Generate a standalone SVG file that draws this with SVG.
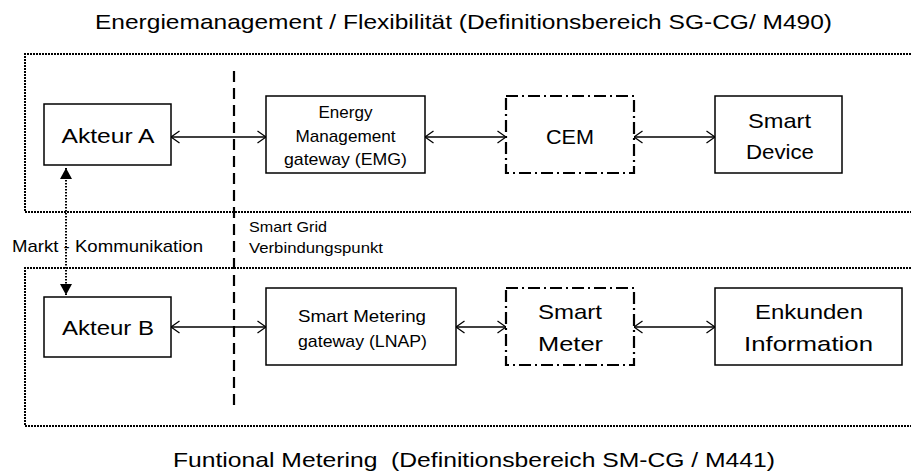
<svg xmlns="http://www.w3.org/2000/svg" width="911" height="472" viewBox="0 0 911 472">
<defs>
<style>
.t{font-family:"Liberation Sans",Arial,sans-serif;fill:#000;text-anchor:middle}
.big{font-size:21px}
.mid{font-size:17px}
.sm{font-size:15px}
.box{fill:#fff;stroke:#000;stroke-width:1.5}
.dd{fill:#fff;stroke:#000;stroke-width:2.2;stroke-dasharray:12 4 2 4}
.region{fill:none;stroke:#000;stroke-width:2;stroke-dasharray:2 1}
.conn{fill:none;stroke:#000;stroke-width:1.3;marker-start:url(#open);marker-end:url(#open)}
.dot{fill:none;stroke:#000;stroke-width:2;stroke-dasharray:1.5 1.5;marker-start:url(#tri);marker-end:url(#tri)}
.dash{fill:none;stroke:#000;stroke-width:2.2;stroke-dasharray:11 6}
</style>
<marker id="open" viewBox="0 0 10 14" refX="9.5" refY="7" markerWidth="10" markerHeight="14" markerUnits="userSpaceOnUse" orient="auto-start-reverse">
<path d="M1,1 L9.5,7 L1,13" fill="none" stroke="#000" stroke-width="1.3"/>
</marker>
<marker id="tri" viewBox="0 0 11 12" refX="11" refY="6" markerWidth="11" markerHeight="12" markerUnits="userSpaceOnUse" orient="auto-start-reverse">
<path d="M0,0 L11,6 L0,12 Z" fill="#000"/>
</marker>
</defs>

<g id="regions">
<path class="region" d="M911,54 H25 V212 H911"/>
<path class="region" d="M911,268 H25 V426 H911"/>
</g>

<g id="titles">
<text class="t big" x="463.5" y="29" textLength="737" lengthAdjust="spacingAndGlyphs">Energiemanagement / Flexibilität (Definitionsbereich SG-CG/ M490)</text>
<text class="t big" x="474" y="467" textLength="602" lengthAdjust="spacingAndGlyphs" xml:space="preserve">Funtional Metering  (Definitionsbereich SM-CG / M441)</text>
</g>

<g id="boundary">
<line class="dash" x1="234" y1="71" x2="234" y2="406"/>
<text class="t sm" x="249" y="232" style="text-anchor:start" textLength="78" lengthAdjust="spacingAndGlyphs">Smart Grid</text>
<text class="t sm" x="249" y="253" style="text-anchor:start" textLength="134" lengthAdjust="spacingAndGlyphs">Verbindungspunkt</text>
</g>

<g id="connectors">
<line class="conn" x1="171" y1="137" x2="266" y2="137"/>
<line class="conn" x1="425" y1="137" x2="506" y2="137"/>
<line class="conn" x1="634" y1="137" x2="715" y2="137"/>
<line class="conn" x1="171" y1="327" x2="266" y2="327"/>
<line class="conn" x1="456" y1="327" x2="506" y2="327"/>
<line class="conn" x1="634" y1="327" x2="715" y2="327"/>
<line class="dot" x1="66" y1="168" x2="66" y2="295"/>
<text class="t mid" x="12" y="252" style="text-anchor:start" textLength="191" lengthAdjust="spacingAndGlyphs">Markt - Kommunikation</text>
</g>

<g id="akteurA">
<rect class="box" x="44" y="104" width="127" height="61"/>
<text class="t big" x="108" y="143" textLength="93" lengthAdjust="spacingAndGlyphs">Akteur A</text>
</g>
<g id="emg">
<rect class="box" x="266" y="96" width="159" height="77"/>
<text class="t mid" x="345.5" y="118" textLength="54" lengthAdjust="spacingAndGlyphs">Energy</text>
<text class="t mid" x="345.5" y="142" textLength="100" lengthAdjust="spacingAndGlyphs">Management</text>
<text class="t mid" x="345.5" y="165" textLength="123" lengthAdjust="spacingAndGlyphs">gateway (EMG)</text>
</g>
<g id="cem">
<rect class="dd" x="506" y="96" width="128" height="77"/>
<text class="t big" x="570" y="144" textLength="48" lengthAdjust="spacingAndGlyphs">CEM</text>
</g>
<g id="smartDevice">
<rect class="box" x="715" y="96" width="127" height="77"/>
<text class="t big" x="779.5" y="128" textLength="63" lengthAdjust="spacingAndGlyphs">Smart</text>
<text class="t big" x="780" y="159" textLength="68" lengthAdjust="spacingAndGlyphs">Device</text>
</g>

<g id="akteurB">
<rect class="box" x="44" y="297" width="127" height="60"/>
<text class="t big" x="108" y="335" textLength="92" lengthAdjust="spacingAndGlyphs">Akteur B</text>
</g>
<g id="smg">
<rect class="box" x="266" y="288" width="190" height="77"/>
<text class="t mid" x="362" y="322" textLength="128" lengthAdjust="spacingAndGlyphs">Smart Metering</text>
<text class="t mid" x="362.5" y="347" textLength="129" lengthAdjust="spacingAndGlyphs">gateway (LNAP)</text>
</g>
<g id="smartMeter">
<rect class="dd" x="506" y="288" width="128" height="77"/>
<text class="t big" x="570" y="319" textLength="64" lengthAdjust="spacingAndGlyphs">Smart</text>
<text class="t big" x="570.5" y="351" textLength="65" lengthAdjust="spacingAndGlyphs">Meter</text>
</g>
<g id="enkunden">
<rect class="box" x="715" y="288" width="187" height="77"/>
<text class="t big" x="809" y="319" textLength="108" lengthAdjust="spacingAndGlyphs">Enkunden</text>
<text class="t big" x="808.5" y="351" textLength="129" lengthAdjust="spacingAndGlyphs">Information</text>
</g>
</svg>
